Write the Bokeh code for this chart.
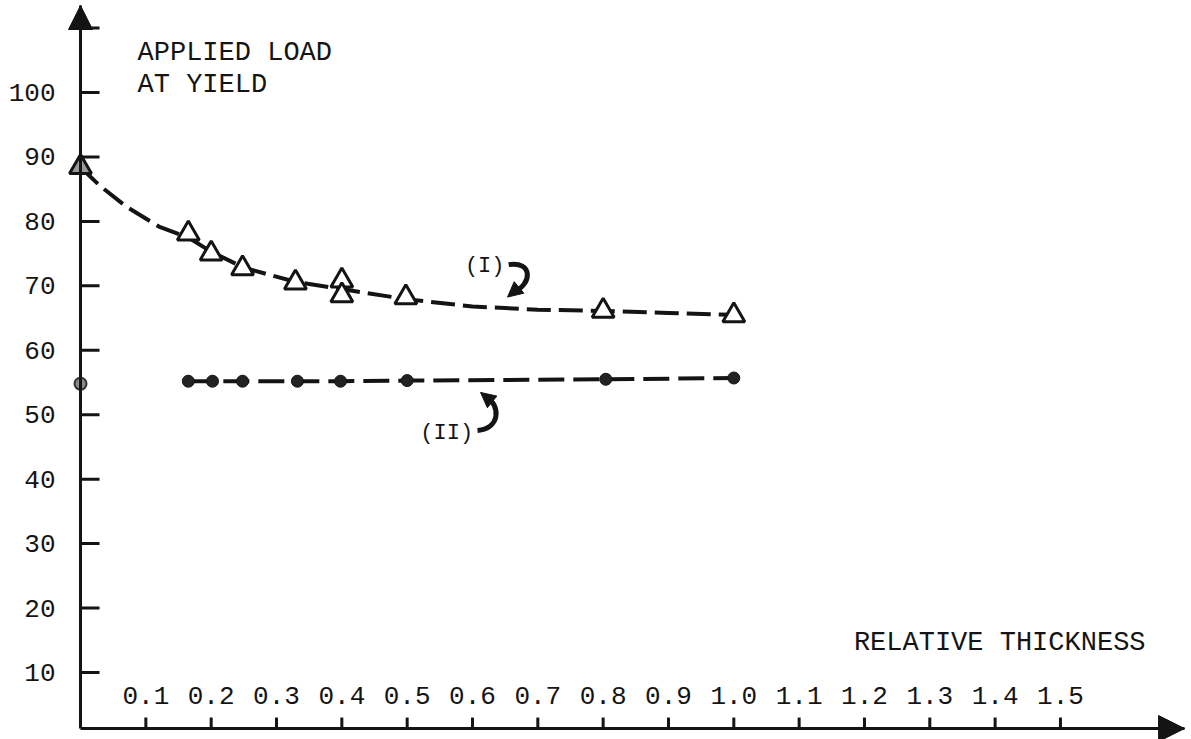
import math
from bokeh.plotting import figure
from bokeh.models import Range1d, FixedTicker, Label, Arrow, NormalHead, NumeralTickFormatter
from bokeh.embed import file_html
from bokeh.resources import INLINE

# ---- data ----
# Series (I): triangles
thick_I = [0.0, 0.165, 0.2, 0.248, 0.329, 0.4, 0.4, 0.498, 0.8, 1.0]
load_I = [88.4, 78.1, 75.0, 72.7, 70.5, 70.8, 68.5, 68.2, 66.1, 65.4]
# dashed fitted curve for (I)
curve_I_x = [0.0, 0.03, 0.07, 0.12, 0.165, 0.2, 0.25, 0.33, 0.4, 0.5, 0.6, 0.7, 0.8, 0.9, 1.0]
curve_I_y = [88.4, 85.5, 82.3, 79.2, 77.5, 75.3, 72.8, 70.6, 69.5, 67.9, 66.8, 66.3, 66.1, 65.8, 65.5]
# Series (II): filled circles
thick_II = [0.0, 0.165, 0.202, 0.248, 0.332, 0.398, 0.5, 0.804, 1.0]
load_II = [54.8, 55.2, 55.2, 55.2, 55.2, 55.2, 55.3, 55.5, 55.7]

x_ticks = [0.1, 0.2, 0.3, 0.4, 0.5, 0.6, 0.7, 0.8, 0.9, 1.0, 1.1, 1.2, 1.3, 1.4, 1.5]
y_ticks = [10, 20, 30, 40, 50, 60, 70, 80, 90, 100, 110]

X_AXIS_AT = 1.3      # load level where the thickness axis is drawn
Y_AXIS_AT = 0.0      # thickness where the load axis is drawn
Y_TOP = 113.5        # tip of the load axis arrow
X_END = 1.69         # tip of the thickness axis arrow

FONT = "Liberation Mono"
INK = "#141414"

p = figure(width=1191, height=739,
           x_range=Range1d(-0.1225, 1.7006), y_range=Range1d(-0.40, 114.28),
           output_backend="svg", toolbar_location=None,
           min_border_left=0, min_border_right=0, min_border_top=0, min_border_bottom=0)
p.outline_line_color = None
p.grid.visible = False
p.background_fill_color = "white"
p.border_fill_color = "white"

# x axis (drawn at a fixed load level, labels above the line)
xa = p.xaxis[0]
xa.fixed_location = X_AXIS_AT
xa.bounds = (Y_AXIS_AT, X_END)
xa.ticker = FixedTicker(ticks=x_ticks)
xa.formatter = NumeralTickFormatter(format="0.0")
xa.axis_line_width = 3
xa.axis_line_color = INK
xa.major_tick_line_color = None
xa.major_tick_in = 0
xa.major_tick_out = 0
xa.minor_tick_line_color = None
xa.major_label_standoff = -42
xa.major_label_text_font = FONT
xa.major_label_text_font_size = "26px"
xa.major_label_text_color = INK

# y axis (drawn at thickness 0)
ya = p.yaxis[0]
ya.fixed_location = Y_AXIS_AT
ya.bounds = (X_AXIS_AT, Y_TOP)
ya.ticker = FixedTicker(ticks=y_ticks)
ya.major_label_overrides = {110: ""}
ya.axis_line_width = 3
ya.axis_line_color = INK
ya.major_tick_line_color = None
ya.major_tick_in = 0
ya.major_tick_out = 0
ya.minor_tick_line_color = None
ya.major_label_standoff = 25
ya.major_label_text_font = FONT
ya.major_label_text_font_size = "26px"
ya.major_label_text_color = INK

# inward tick marks at the axis tick values
p.ray(x=[Y_AXIS_AT] * len(y_ticks), y=y_ticks, length=19, length_units="screen",
      angle=0, line_width=3, line_color=INK)
p.ray(x=x_ticks, y=[X_AXIS_AT] * len(x_ticks), length=11, length_units="screen",
      angle=math.pi / 2, line_width=3, line_color=INK)

# axis arrow heads
p.add_layout(Arrow(end=NormalHead(size=24, fill_color=INK, line_color=INK),
                   x_start=Y_AXIS_AT, y_start=100, x_end=Y_AXIS_AT, y_end=Y_TOP,
                   line_width=3, line_color=INK))
p.add_layout(Arrow(end=NormalHead(size=26, fill_color=INK, line_color=INK),
                   x_start=1.5, y_start=X_AXIS_AT, x_end=X_END, y_end=X_AXIS_AT,
                   line_width=3, line_color=INK))

# series (I)
p.line(curve_I_x, curve_I_y, line_color=INK, line_width=4, line_dash="24 8")
p.scatter(thick_I[1:], load_I[1:], marker="triangle", size=22, line_width=3,
          line_color=INK, fill_color="white")
p.scatter(thick_I[:1], load_I[:1], marker="triangle", size=22, line_width=3,
          line_color=INK, fill_color="#9a9a9a")

# series (II)
p.line(thick_II[1:], load_II[1:], line_color=INK, line_width=4, line_dash="26 9")
p.scatter(thick_II[1:], load_II[1:], marker="circle", size=12, line_width=1,
          line_color=INK, fill_color="#222222")
p.scatter(thick_II[:1], load_II[:1], marker="circle", size=12, line_width=2,
          line_color="#333333", fill_color="#8a8a8a")

# curve labels with curved pointers
p.add_layout(Label(x=0.6187, y=72.99, text="(I)", text_font=FONT, text_font_size="22px",
                   text_align="center", text_baseline="middle", text_color=INK))
p.bezier(x0=[0.6554], y0=[73.29], x1=[0.6628], y1=[69.04],
         cx0=[0.6922], cy0=[73.91], cx1=[0.6922], cy1=[70.27], line_width=5, line_color=INK)
p.add_layout(Arrow(end=NormalHead(size=15, fill_color=INK, line_color=INK),
                   x_start=0.6628, y_start=69.04, x_end=0.6536, y_end=68.26,
                   line_width=5, line_color=INK))

p.add_layout(Label(x=0.5605, y=47.10, text="(II)", text_font=FONT, text_font_size="22px",
                   text_align="center", text_baseline="middle", text_color=INK))
p.bezier(x0=[0.6077], y0=[47.56], x1=[0.6217], y1=[52.68],
         cx0=[0.6429], cy0=[47.87], cx1=[0.6429], cy1=[51.44], line_width=5, line_color=INK)
p.add_layout(Arrow(end=NormalHead(size=15, fill_color=INK, line_color=INK),
                   x_start=0.6217, y_start=52.68, x_end=0.6123, y_end=53.46,
                   line_width=5, line_color=INK))

# axis titles
p.add_layout(Label(x=0.0873, y=106.2, text="APPLIED LOAD", text_font=FONT,
                   text_font_size="27px", text_baseline="middle", text_color=INK))
p.add_layout(Label(x=0.0873, y=101.1, text="AT YIELD", text_font=FONT,
                   text_font_size="27px", text_baseline="middle", text_color=INK))
p.add_layout(Label(x=1.1838, y=14.65, text="RELATIVE THICKNESS", text_font=FONT,
                   text_font_size="27px", text_baseline="middle", text_color=INK))

open("out.html", "w").write(file_html(p, INLINE))
